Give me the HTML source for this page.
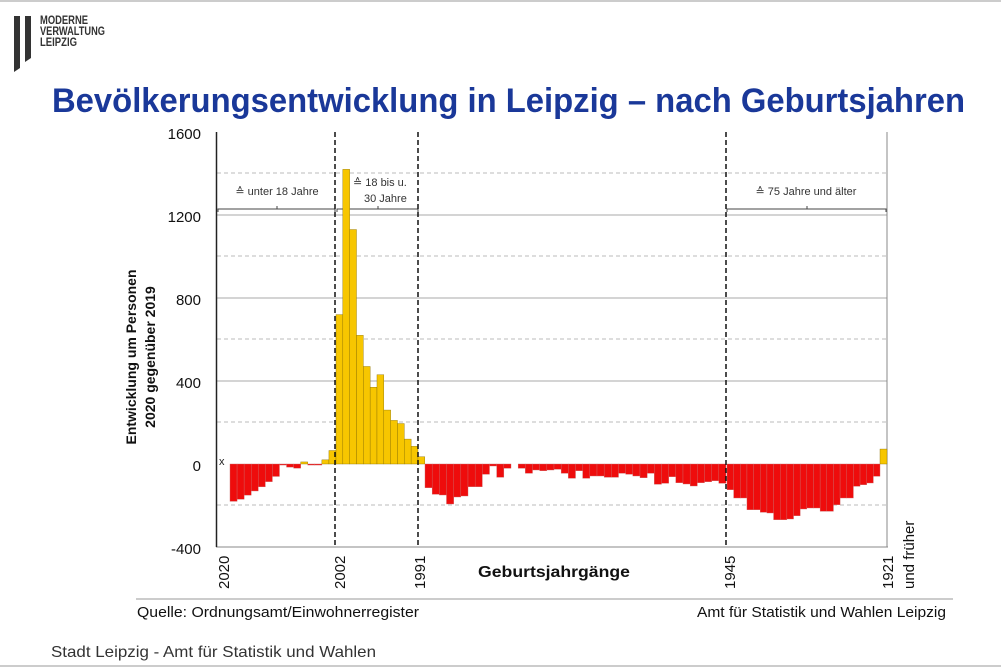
<!DOCTYPE html>
<html><head><meta charset="utf-8"><style>
body{margin:0;background:#fff;}
svg{display:block;font-family:"Liberation Sans",sans-serif;}
</style></head><body>
<svg width="1001" height="667" viewBox="0 0 1001 667" xmlns="http://www.w3.org/2000/svg">
<rect width="1001" height="667" fill="#fff"/>
<line x1="0" y1="1" x2="1001" y2="1" stroke="#ccc" stroke-width="2"/>
<line x1="0" y1="666" x2="1001" y2="666" stroke="#ccc" stroke-width="2"/>
<polygon points="14,16 20,16 20,68 14,72" fill="#333"/>
<polygon points="25,16 31,16 31,58 25,62" fill="#333"/>
<g font-weight="bold" font-size="12" fill="#333">
<text x="40" y="24" textLength="48" lengthAdjust="spacingAndGlyphs">MODERNE</text>
<text x="40" y="35" textLength="65" lengthAdjust="spacingAndGlyphs">VERWALTUNG</text>
<text x="40" y="46" textLength="37" lengthAdjust="spacingAndGlyphs">LEIPZIG</text></g>
<text x="52" y="112" font-size="34" font-weight="bold" fill="#1a3899" textLength="913" lengthAdjust="spacingAndGlyphs">Bevölkerungsentwicklung in Leipzig – nach Geburtsjahren</text>
<g stroke="#aaa" stroke-width="1">
<line x1="217" y1="215" x2="887" y2="215"/><line x1="217" y1="298" x2="887" y2="298"/><line x1="217" y1="381" x2="887" y2="381"/>
</g>
<g stroke="#bbb" stroke-width="1" stroke-dasharray="4,3">
<line x1="217" y1="173" x2="887" y2="173"/><line x1="217" y1="256" x2="887" y2="256"/><line x1="217" y1="339" x2="887" y2="339"/><line x1="217" y1="422" x2="887" y2="422"/><line x1="217" y1="505" x2="887" y2="505"/>
</g>
<line x1="887" y1="132" x2="887" y2="547" stroke="#888"/>
<line x1="216" y1="547" x2="888" y2="547" stroke="#888"/>
<line x1="216.5" y1="132" x2="216.5" y2="547" stroke="#222" stroke-width="1.5"/>
<g stroke="#444" fill="none" stroke-width="1">
<path d="M218,212 V209 H335 V212 M277,209 V206"/>
<path d="M337,212 V209 H418 V212 M378,209 V206"/>
<path d="M727,212 V209 H886 V212 M807,209 V206"/>
</g>
<g font-size="11" fill="#333">
<text x="277" y="195" text-anchor="middle">≙ unter 18 Jahre</text>
<text x="353" y="186">≙ 18 bis u.</text>
<text x="364" y="202">30 Jahre</text>
<text x="806" y="195" text-anchor="middle">≙ 75 Jahre und älter</text>
</g>
<text x="219" y="465" font-size="11" fill="#222">x</text>
<g id="bars"></g>
<g stroke="#111" stroke-width="1.5" stroke-dasharray="5,3">
<line x1="335" y1="132" x2="335" y2="547"/><line x1="418" y1="132" x2="418" y2="547"/><line x1="726" y1="132" x2="726" y2="547"/>
</g>
<g font-size="15" fill="#111" text-anchor="end">
<text x="201" y="139">1600</text><text x="201" y="222">1200</text><text x="201" y="305">800</text><text x="201" y="388">400</text><text x="201" y="471">0</text><text x="201" y="554">-400</text>
</g>
<text transform="translate(136,357) rotate(-90)" text-anchor="middle" font-size="14" font-weight="bold" fill="#111">Entwicklung um Personen</text>
<text transform="translate(155,357) rotate(-90)" text-anchor="middle" font-size="14" font-weight="bold" fill="#111">2020 gegenüber 2019</text>
<g font-size="15" fill="#111">
<text transform="translate(229,589) rotate(-90)">2020</text>
<text transform="translate(345,589) rotate(-90)">2002</text>
<text transform="translate(425,589) rotate(-90)">1991</text>
<text transform="translate(735,589) rotate(-90)">1945</text>
<text transform="translate(893,589) rotate(-90)">1921</text>
<text transform="translate(914,589) rotate(-90)">und früher</text>
</g>
<text x="478" y="577" font-size="16" font-weight="bold" fill="#111" textLength="152" lengthAdjust="spacingAndGlyphs">Geburtsjahrgänge</text>
<line x1="136" y1="599" x2="953" y2="599" stroke="#bbb" stroke-width="1.5"/>
<text x="137" y="617" font-size="15" fill="#111" textLength="282" lengthAdjust="spacingAndGlyphs">Quelle: Ordnungsamt/Einwohnerregister</text>
<text x="697" y="617" font-size="15" fill="#111" textLength="249" lengthAdjust="spacingAndGlyphs">Amt für Statistik und Wahlen Leipzig</text>
<text x="51" y="657" font-size="16" fill="#333" textLength="325" lengthAdjust="spacingAndGlyphs">Stadt Leipzig  -  Amt für Statistik und Wahlen</text>
</svg>
<script>
(function(){
var g=document.getElementById('bars'),Z=464,k=83/400,out='';
function bar(x,w,v){var h=Math.abs(v)*k,y=v>=0?Z-h:Z;
 var c=v>=0?'#f7c600':'#ee0c0c';
 out+='<rect x="'+x.toFixed(2)+'" y="'+y.toFixed(2)+'" width="'+w.toFixed(2)+'" height="'+Math.max(h,0.5).toFixed(2)+'" fill="'+c+'" stroke="'+(v>=0?'#8a7000':'#c66')+'" stroke-width="0.4"/>';}
var a=[-180,-170,-150,-130,-110,-85,-60,-5,-15,-20,10,-5,-5,20,65];
var w=(336-230)/a.length;a.forEach(function(v,i){bar(230+i*w,w,v);});
var b=[720,1420,1130,620,470,370,430,260,210,195,120,85,35];
w=6.83;b.forEach(function(v,i){bar(336+i*w,w,v);});
var c=[23.7,30.3,31,40,33,32,22.7,22.7,10.3,2,13.3,4.3,0,4.3,9.3,6,6.7,6,5.3,9.3,14.3,6.7,14.3,12,12,13.3,13.3,9.3,10.3,12,13.7,9.3,20.3,19.3,12.7,18.7,20,22,18.7,17.7,16.7,19.3];
w=(726-425)/c.length;c.forEach(function(p,i){if(p>0)bar(425+i*w,w,-p/k);});
var d=[25.7,34,34,45.7,45.7,48.3,49,55.7,55.7,55,51.7,45,44,44,47.3,47.3,40.7,34,34,22.3,20.7,19,12.3];
w=(880-727)/d.length;d.forEach(function(p,i){bar(727+i*w,w,-p/k);});
bar(880,7,72);
g.innerHTML=out;
})();
</script>
</body></html>
